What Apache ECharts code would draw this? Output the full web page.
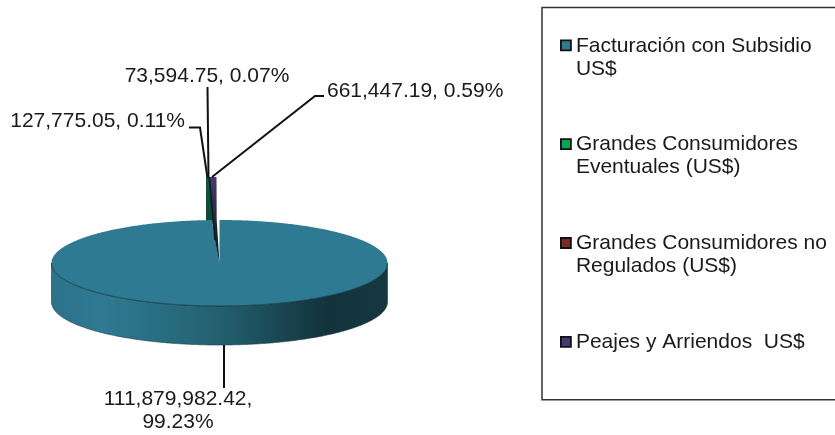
<!DOCTYPE html>
<html>
<head>
<meta charset="utf-8">
<style>html,body{margin:0;padding:0;background:#fff}#c{width:835px;height:435px}</style>
<script src="https://cdn.jsdelivr.net/npm/echarts@6/dist/echarts.min.js"></script>
</head>
<body>
<div id="c"></div>
<script>
const categories = ['Facturación con Subsidio US$', 'Grandes Consumidores Eventuales (US$)', 'Grandes Consumidores no Regulados (US$)', 'Peajes y Arriendos  US$'];
const legendLines = ['Facturación con Subsidio\nUS$', 'Grandes Consumidores\nEventuales (US$)', 'Grandes Consumidores no\nRegulados (US$)', 'Peajes y Arriendos  US$\n '];
const values = [111879982.42, 127775.05, 73594.75, 661447.19];
const percents = ['99.23%', '0.11%', '0.07%', '0.59%'];
const colors = ['#2e7a92', '#00a651', '#7b2a26', '#463a72'];

const FONT = '"Liberation Sans", Arial, sans-serif';
const PIE = {cx: 219.5, cy: 263, rx: 168, ry: 43, depth: 39, explodeX: -3, explodeY: -43};
const total = values.reduce((a, b) => a + b, 0);
function angles(idx) {
  let s = 0;
  for (let i = 0; i < idx; i++) s += values[i];
  return [s / total * Math.PI * 2, (s + values[idx]) / total * Math.PI * 2];
}
function rim(a, ox, oy) {
  return [PIE.cx + ox + PIE.rx * Math.sin(a), PIE.cy + oy - PIE.ry * Math.cos(a)];
}
function arc(a0, a1, ox, oy) {
  const n = Math.max(2, Math.ceil((a1 - a0) / 0.01)), pts = [];
  for (let i = 0; i <= n; i++) pts.push(rim(a0 + (a1 - a0) * i / n, ox, oy));
  return pts;
}
function poly(points, fill, stroke, lw) {
  return {type: 'polygon', shape: {points}, style: {fill, stroke: stroke || null, lineWidth: lw || 0}};
}
function renderMain(params, api) {
  const [a0, a1] = angles(0);
  const top = arc(a0, a1, 0, 0);
  const wall = arc(Math.PI / 2, Math.PI * 1.5, 0, 0);
  const wallPts = wall.concat(wall.slice().reverse().map(p => [p[0], p[1] + PIE.depth]));
  const grad = new echarts.graphic.LinearGradient(0, 0, 1, 0, [
    {offset: 0, color: '#2b7389'}, {offset: 0.15, color: '#2e7a92'}, {offset: 0.5, color: '#23606f'},
    {offset: 0.82, color: '#12333c'}, {offset: 1, color: '#16383f'}]);
  const cut = rim(a1, 0, 0);
  return {type: 'group', children: [
    poly(wallPts, grad, '#1b3a44', 0.6),
    poly(top.concat([[PIE.cx, PIE.cy]]), api.visual('color'), null),
    poly([cut, [cut[0] + 2.5, cut[1]], [PIE.cx, PIE.cy]], api.visual('color'), null),
    {type: 'polyline', shape: {points: wall}, style: {stroke: '#1b3a44', lineWidth: 0.8, fill: null}}
  ]};
}
function renderSlice(params, api) {
  const idx = params.seriesIndex;
  const [a0, a1] = angles(idx);
  const ox = PIE.explodeX, oy = PIE.explodeY;
  const apex = [PIE.cx + ox, PIE.cy + oy];
  const l = rim(a0, ox, oy), r = rim(a1, ox, oy);
  const color = api.visual('color');
  if (idx === 3) {
    const grad = new echarts.graphic.LinearGradient(0, 0, 0, 1, [
      {offset: 0, color: color}, {offset: 0.45, color: '#2b2845'}, {offset: 0.6, color: '#14242c'}, {offset: 1, color: '#14242c'}]);
    const bend = [PIE.cx - 4.5, PIE.cy - 23];
    return {type: 'group', children: [
      poly([[l[0] - 1, l[1]], r, [r[0] + 0.2, apex[1]], [PIE.cx, PIE.cy], bend], grad, null),
      {type: 'line', shape: {x1: l[0] - 1, y1: l[1], x2: bend[0], y2: bend[1]}, style: {stroke: '#0e1a1e', lineWidth: 1.6}}
    ]};
  }
  if (idx === 2) {
    // the sliver is narrower than a pixel and stays behind its neighbour
    return poly([l, r, apex], color, null);
  }
  // cut face of the raised slice, hidden by the main top below its rim
  const grad = new echarts.graphic.LinearGradient(0, 0, 0, 1, [
    {offset: 0, color: '#0b5a3c'}, {offset: 1, color: '#0b4a33'}]);
  const left = l[0] - 2.4;
  return poly([[left, l[1]], [r[0] + 1, r[1]], [apex[0] - 3, apex[1] + 2], [left, l[1] + PIE.depth + 6]], grad, null);
}
const leaders = [
  {pts: [[224, 345], [224, 388]], x: 178, y: 411, align: 'center', lines: v => v + ',\n'},
  {pts: [[189, 127.5], [200, 127.5], [207.5, 178]], x: 185, y: 121, align: 'right', lines: v => v + ', '},
  {pts: [[207.5, 87], [208.5, 178]], x: 207, y: 76, align: 'center', lines: v => v + ', '},
  {pts: [[324, 96], [315, 96], [212, 177]], x: 327, y: 91, align: 'left', lines: v => v + ', '}
];
function fmt(v) {
  return v.toLocaleString('en-US', {minimumFractionDigits: 2, maximumFractionDigits: 2});
}
function renderLabels() {
  const ch = [];
  leaders.forEach((d, i) => {
    ch.push({type: 'polyline', shape: {points: d.pts}, style: {stroke: '#111', lineWidth: 2, fill: null}});
    ch.push({type: 'text', x: d.x, y: d.y, style: {
      text: d.lines(fmt(values[i])) + percents[i], align: d.align, verticalAlign: 'middle',
      font: '21px ' + FONT, fill: '#1a1a1a', lineHeight: 23}});
  });
  return {type: 'group', children: ch};
}
const LEG_H = 46;
const iconTop = 'path://M0 6h10v10h-10z M0 0L0.01 0 M0 46L0.01 46';

const series = categories.map((name, i) => ({
  type: 'custom', name, coordinateSystem: 'none',
  z: i === 0 ? 3 : (i === 3 ? 4 : 2),
  silent: true,
  itemStyle: {color: colors[i]},
  data: [[values[i]]],
  renderItem: i === 0 ? renderMain : renderSlice
}));
series.push({type: 'custom', name: 'labels', coordinateSystem: 'none', z: 6, silent: true, data: [[0]], renderItem: renderLabels});

const chart = echarts.init(document.getElementById('c'), null, {renderer: 'canvas'});
chart.setOption({
  animation: false,
  backgroundColor: '#fff',
  legend: {
    orient: 'vertical', left: 542, top: 7.5,
    padding: [26, 24, 22, 18],
    backgroundColor: '#fff', borderColor: '#333', borderWidth: 1.5, borderRadius: 0,
    itemWidth: 10, itemHeight: LEG_H, itemGap: 51,
    selectedMode: false,
    textStyle: {fontFamily: FONT, fontSize: 21, color: '#1a1a1a', lineHeight: 23},
    itemStyle: {borderColor: '#111', borderWidth: 1.8},
    data: categories.map(name => ({name, icon: iconTop})),
    formatter: name => legendLines[categories.indexOf(name)]
  },
  series
});
</script>
</body>
</html>
